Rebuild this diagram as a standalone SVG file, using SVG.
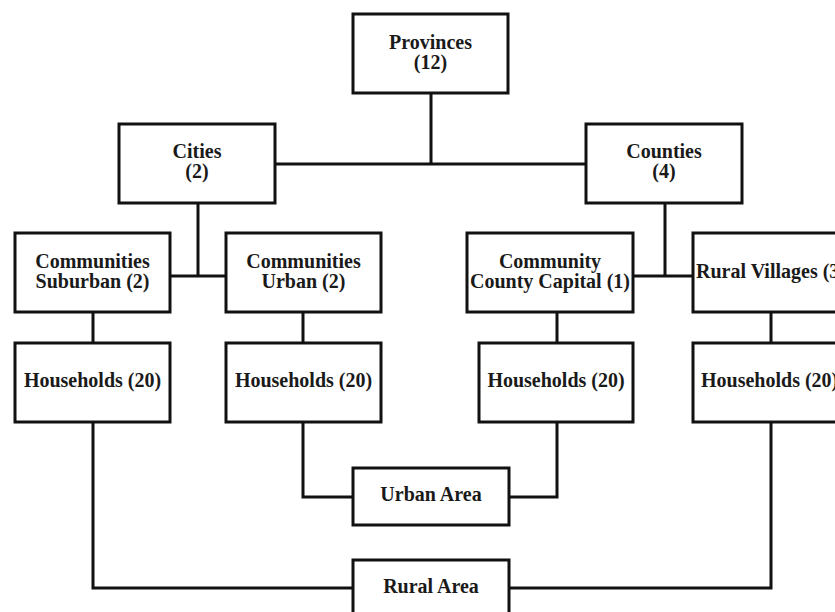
<svg xmlns="http://www.w3.org/2000/svg" width="835" height="612" viewBox="0 0 835 612">
<style>
.box{fill:#fff;stroke:#111;stroke-width:3}
.ln{fill:none;stroke:#111;stroke-width:3}
text{font-family:"Liberation Serif","Times New Roman",serif;font-weight:bold;font-size:20px;fill:#1a1a1a;text-anchor:middle}
.s{text-anchor:start}
</style>
<rect width="835" height="612" fill="#fff"/>
<g id="connectors">
<path class="ln" d="M431,93 V164 M275,164 H586"/>
<path class="ln" d="M198,203 V276 M170,276 H226"/>
<path class="ln" d="M665,203 V276 M633,276 H693"/>
<path class="ln" d="M93,312 V343 M303,312 V343 M557,312 V343 M771,312 V343"/>
<path class="ln" d="M303,422 V497 H353 M509,497 H557 V422"/>
<path class="ln" d="M93,422 V588 H353 M509,588 H771 V422"/>
</g>
<g id="provinces"><rect class="box" x="353" y="14" width="155" height="79"/><text x="430.5" y="49">Provinces</text><text x="430.5" y="69">(12)</text></g>
<g id="cities"><rect class="box" x="119" y="124" width="156" height="79"/><text x="197" y="158">Cities</text><text x="197" y="178">(2)</text></g>
<g id="counties"><rect class="box" x="586" y="124" width="156" height="79"/><text x="664" y="158">Counties</text><text x="664" y="178">(4)</text></g>
<g id="suburban"><rect class="box" x="15" y="233" width="155" height="79"/><text x="92.5" y="268">Communities</text><text x="92.5" y="288">Suburban (2)</text></g>
<g id="urban"><rect class="box" x="226" y="233" width="155" height="79"/><text x="303.5" y="268">Communities</text><text x="303.5" y="288">Urban (2)</text></g>
<g id="capital"><rect class="box" x="467" y="233" width="166" height="79"/><text x="550" y="268">Community</text><text x="550" y="288">County Capital (1)</text></g>
<g id="villages"><rect class="box" x="693" y="233" width="160" height="79"/><text class="s" x="696" y="278">Rural Villages (3)</text></g>
<g id="hh1"><rect class="box" x="15" y="343" width="155" height="79"/><text x="92.5" y="387">Households (20)</text></g>
<g id="hh2"><rect class="box" x="226" y="343" width="155" height="79"/><text x="303.5" y="387">Households (20)</text></g>
<g id="hh3"><rect class="box" x="479" y="343" width="154" height="79"/><text x="556" y="387">Households (20)</text></g>
<g id="hh4"><rect class="box" x="693" y="343" width="160" height="79"/><text class="s" x="701" y="387">Households (20)</text></g>
<g id="urbanarea"><rect class="box" x="353" y="468" width="156" height="57"/><text x="431" y="501">Urban Area</text></g>
<g id="ruralarea"><rect class="box" x="353" y="560" width="156" height="60"/><text x="431" y="593">Rural Area</text></g>
</svg>
